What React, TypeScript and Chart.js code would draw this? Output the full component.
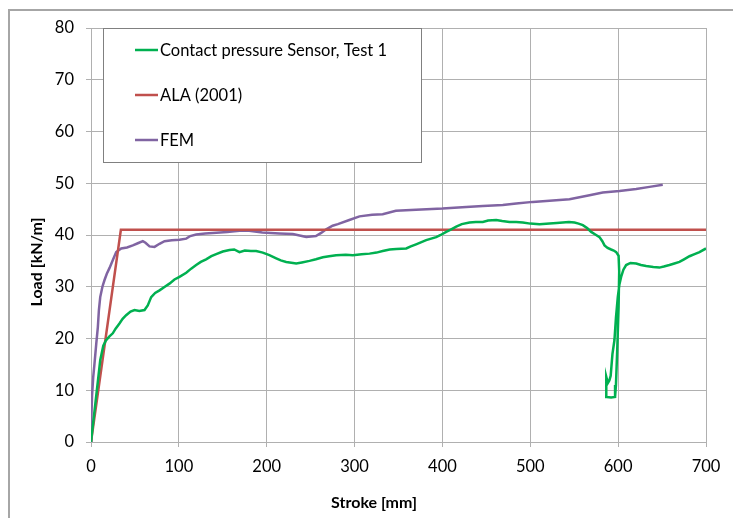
import React, { useEffect, useRef } from "react";
import Chart from "chart.js/auto";

// Contact pressure sensor, test 1
const sensorStroke = [
  0, 2, 5, 8, 10.5, 14, 17.3, 21, 24.8, 28, 32.4, 36, 40, 45, 49.5, 55, 60.9, 64.6, 68.5, 73,
  78, 84, 89.3, 95, 100.7, 108.4, 114, 119.7, 125, 131, 137, 142.5, 150, 157.6, 163, 169, 175,
  182, 188, 195.5, 203, 210.8, 216, 222.2, 233.6, 240, 248.7, 256, 263.9, 271, 279, 290, 298,
  308, 317, 325, 332, 340, 347.4, 358.8, 364, 370, 381.5, 392.9, 398, 404.3, 410, 415.7, 422,
  430.8, 438, 446, 452, 461.2, 468, 476.3, 484, 491.5, 500, 510.5, 521.9, 530, 537, 544, 550.3,
  555, 559.8, 565, 569.3, 574, 578.8, 582, 584.5, 588, 592, 595, 597.8, 600.5, 601.2, 600.5,
  599, 597.5, 596.5, 592, 587, 586.5, 588.3, 590, 591.5, 593.5, 595.8, 597.5, 599.6, 601.5,
  603.4, 606, 609.1, 614, 620.5, 626, 631.9, 640, 647, 652, 658.4, 664, 669.8, 675, 681.2, 687,
  692.6, 700,
];
const sensorLoad = [
  0, 3, 7.5, 12, 15.8, 18.6, 19.7, 20.4, 21, 21.9, 22.9, 23.8, 24.5, 25.2, 25.5, 25.3, 25.5,
  26.4, 28, 28.8, 29.3, 30, 30.6, 31.4, 31.9, 32.7, 33.5, 34.2, 34.8, 35.3, 35.9, 36.3, 36.8,
  37.1, 37.2, 36.7, 37, 36.9, 36.9, 36.6, 36.1, 35.5, 35.1, 34.8, 34.5, 34.7, 35, 35.3, 35.7,
  35.9, 36.1, 36.2, 36.1, 36.3, 36.4, 36.6, 36.9, 37.2, 37.3, 37.4, 37.8, 38.2, 39, 39.6, 40,
  40.6, 41.1, 41.6, 42.1, 42.4, 42.5, 42.5, 42.8, 42.9, 42.7, 42.5, 42.5, 42.4, 42.2, 42.1,
  42.2, 42.3, 42.4, 42.5, 42.4, 42.2, 41.9, 41.3, 40.6, 40.1, 39.6, 38.8, 38, 37.5, 37.2, 37,
  36.7, 36, 33, 26, 18, 11, 8.7, 8.6, 8.7, 12.6, 11.4, 11.9, 12.8, 17, 19.7, 24, 28, 30.5, 31.9,
  33.3, 34.2, 34.6, 34.5, 34.2, 34, 33.8, 33.7, 33.9, 34.2, 34.5, 34.8, 35.3, 35.9, 36.3, 36.7,
  37.4,
];

// ALA (2001) guideline
const alaStroke = [0, 34, 700];
const alaLoad = [0, 41, 41];

// Finite element model
const femStroke = [
  0, 0.5, 1.2, 2.5, 4, 6, 7.8, 9, 10.5, 13, 15.4, 18, 21, 25, 28.7, 34.4, 41, 47.6, 53.3, 59,
  62, 66.6, 72.3, 78, 83.7, 92, 100.7, 108.4, 113, 119.7, 130, 138.6, 155, 169, 180, 195, 214.5,
  229.7, 240, 245, 256, 262, 267.7, 275, 281, 294, 305.6, 320, 332, 347, 370, 400, 427, 446,
  468.7, 484, 502.8, 521.9, 544.6, 567.4, 582.5, 601.5, 620.5, 635.7, 650.8,
];
const femLoad = [
  0, 5, 9, 12.5, 15.2, 19, 22.2, 25.5, 28, 30, 31.3, 32.5, 33.6, 35.2, 36.7, 37.4, 37.6, 38,
  38.4, 38.8, 38.5, 37.8, 37.7, 38.3, 38.8, 39, 39.1, 39.3, 39.8, 40.1, 40.3, 40.4, 40.6, 40.8,
  40.8, 40.5, 40.3, 40.2, 39.8, 39.6, 39.8, 40.4, 41.1, 41.8, 42.1, 42.9, 43.6, 43.9, 44, 44.7,
  44.9, 45.1, 45.4, 45.6, 45.8, 46.1, 46.4, 46.6, 46.9, 47.7, 48.2, 48.5, 48.9, 49.3, 49.7,
];

const seriesNames = ["Contact pressure Sensor, Test 1", "ALA (2001)", "FEM"];
const seriesColors = ["#00b050", "#c0504d", "#8064a2"];

const xTitle = "Stroke [mm]";
const yTitle = "Load [kN/m]";
const xMin = 0, xMax = 700, xStep = 100;
const yMin = 0, yMax = 80, yStep = 10;

const FONT = "Lato, 'DejaVu Sans', sans-serif";
const GRID = "#b0b0b0";

const toPoints = (xs: number[], ys: number[]) => xs.map((x, i) => ({ x, y: ys[i] }));

// Boxed legend in the upper-left of the plot plus the two axis titles
const overlayPlugin = {
  id: "overlay",
  afterDraw(chart: any) {
    const ctx = chart.ctx as CanvasRenderingContext2D;
    ctx.save();
    // legend box
    const bx = 103.5, by = 28.5, bw = 318, bh = 134;
    ctx.fillStyle = "#ffffff";
    ctx.fillRect(bx, by, bw, bh);
    ctx.strokeStyle = "#808080";
    ctx.lineWidth = 1;
    ctx.strokeRect(bx, by, bw, bh);
    ctx.font = `16.5px ${FONT}`;
    ctx.textBaseline = "middle";
    ctx.textAlign = "left";
    const rows = [50, 95, 140];
    chart.data.datasets.forEach((ds: any, i: number) => {
      const y = rows[i];
      ctx.strokeStyle = ds.borderColor;
      ctx.lineWidth = 2.5;
      ctx.beginPath();
      ctx.moveTo(135, y);
      ctx.lineTo(158, y);
      ctx.stroke();
      ctx.fillStyle = "#000000";
      ctx.fillText(ds.label, 160, y + 1);
    });
    // axis titles
    ctx.font = `bold 16px ${FONT}`;
    ctx.textAlign = "center";
    ctx.fillText(xTitle, 374, 503);
    ctx.translate(37, 262);
    ctx.rotate(-Math.PI / 2);
    ctx.fillText(yTitle, 0, 0);
    ctx.restore();
  },
};

export default function App() {
  const canvasRef = useRef<HTMLCanvasElement | null>(null);

  useEffect(() => {
    const canvas = canvasRef.current;
    if (!canvas) return;
    const mk = (i: number, xs: number[], ys: number[]) => ({
      label: seriesNames[i],
      data: toPoints(xs, ys),
      borderColor: seriesColors[i],
      backgroundColor: seriesColors[i],
      borderWidth: 2.5,
      pointRadius: 0,
      tension: 0,
      fill: false,
    });
    const chart = new Chart(canvas, {
      type: "line",
      data: {
        datasets: [
          mk(0, sensorStroke, sensorLoad),
          mk(1, alaStroke, alaLoad),
          mk(2, femStroke, femLoad),
        ],
      },
      options: {
        animation: false,
        responsive: false,
        devicePixelRatio: 1,
        layout: { padding: { left: 0, top: 28, right: 27, bottom: 0 } },
        plugins: { legend: { display: false }, tooltip: { enabled: false } },
        scales: {
          x: {
            type: "linear",
            min: xMin,
            max: xMax,
            ticks: { stepSize: xStep, color: "#000", font: { family: FONT, size: 16.5 }, padding: 10 },
            grid: { color: GRID, tickLength: 5 },
            border: { color: GRID },
            afterFit: (s: any) => { s.height = 76; },
          },
          y: {
            type: "linear",
            min: yMin,
            max: yMax,
            ticks: { stepSize: yStep, color: "#000", font: { family: FONT, size: 16.5 }, padding: 12 },
            grid: { color: GRID, tickLength: 5 },
            border: { color: GRID },
            afterFit: (s: any) => { s.width = 91; },
          },
        },
      },
      plugins: [overlayPlugin],
    });
    return () => chart.destroy();
  }, []);

  return (
    <div style={{ position: "fixed", left: 0, top: 0, width: 733, height: 518, overflow: "hidden", background: "#fff" }}>
      <div
        style={{
          position: "absolute",
          left: 8,
          top: 9,
          width: 800,
          height: 700,
          border: "2px solid #a6a6a6",
        }}
      />
      <canvas ref={canvasRef} width={733} height={518} style={{ position: "absolute", left: 0, top: 0 }} />
    </div>
  );
}
